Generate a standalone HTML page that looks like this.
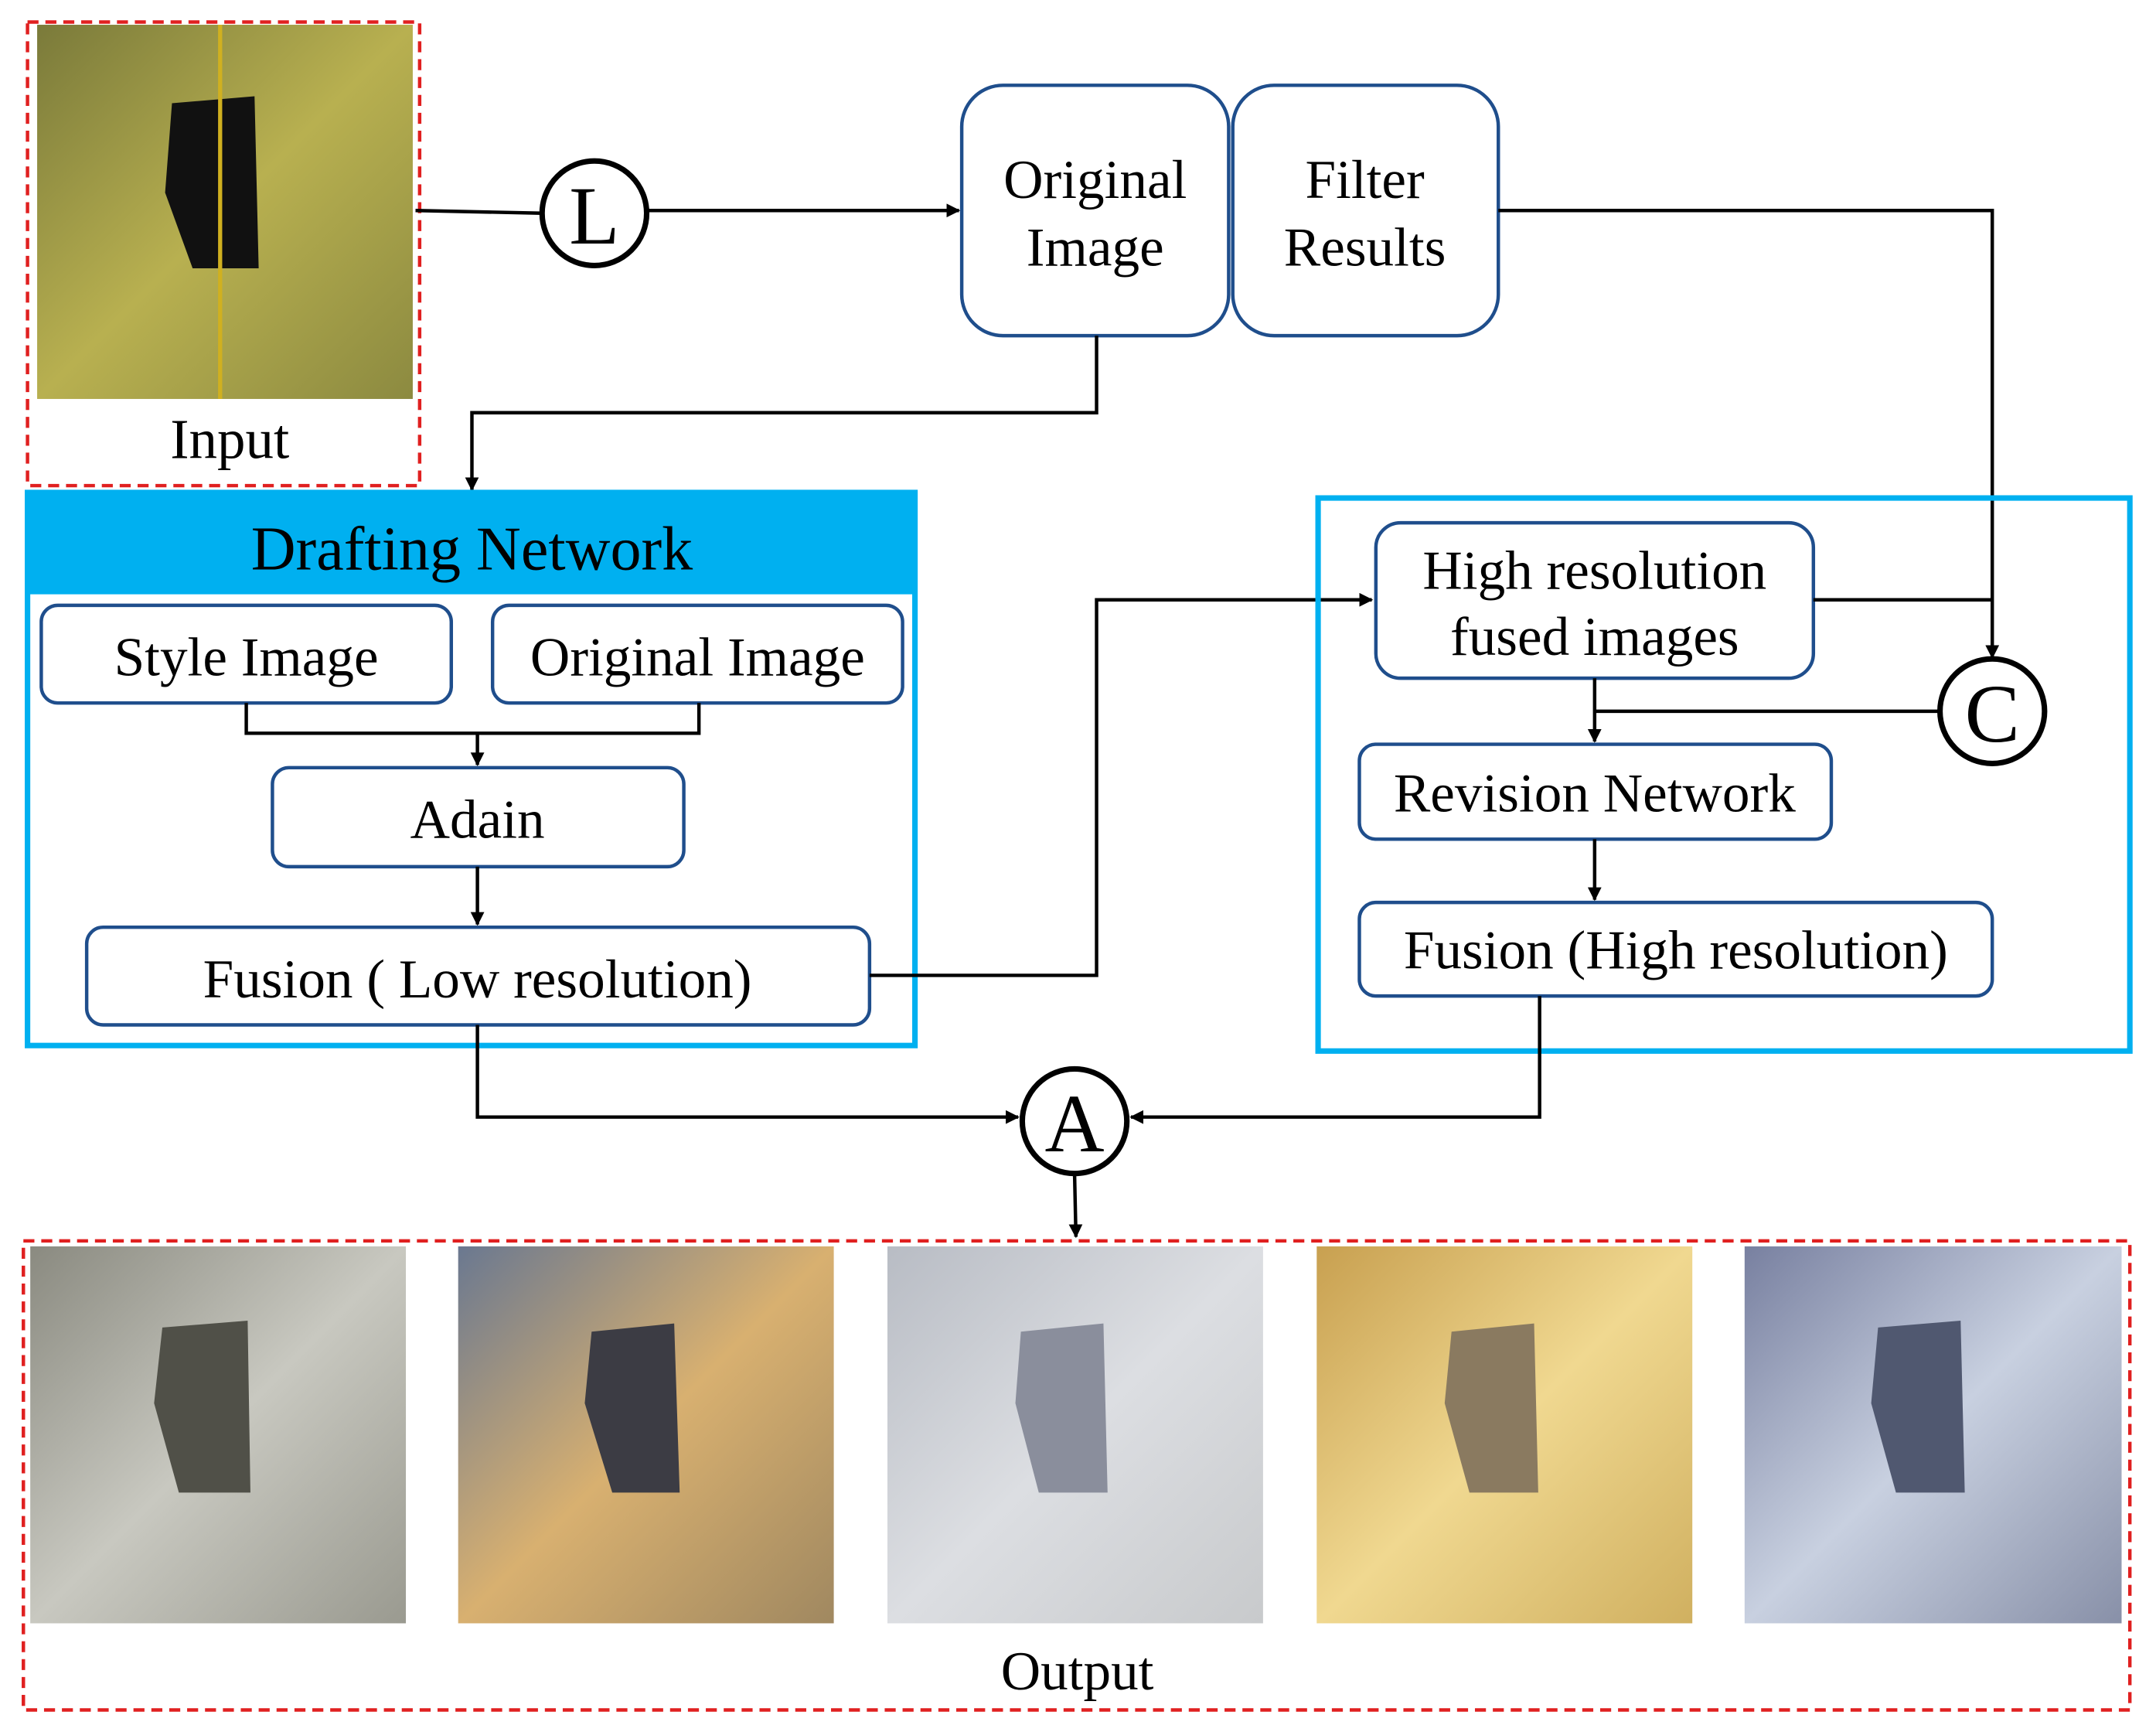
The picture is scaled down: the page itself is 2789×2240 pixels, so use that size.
<!DOCTYPE html>
<html><head><meta charset="utf-8"><style>html,body{margin:0;padding:0;background:#fff}svg{display:block}</style></head>
<body>
<svg width="2789" height="2240" viewBox="0 0 1567 1259" preserveAspectRatio="none" xmlns="http://www.w3.org/2000/svg" font-family="Liberation Serif, serif">
<defs>
<marker id="ar" markerWidth="10" markerHeight="10" refX="9" refY="5" orient="auto" markerUnits="userSpaceOnUse"><path d="M0,0 L10,5 L0,10 z" fill="#000"/></marker>
<linearGradient id="gIn" x1="0" y1="0" x2="1" y2="1"><stop offset="0" stop-color="#7a7a3a"/><stop offset="0.5" stop-color="#b8b050"/><stop offset="1" stop-color="#8c8a40"/></linearGradient>
<linearGradient id="g1" x1="0" y1="0" x2="1" y2="1"><stop offset="0" stop-color="#8a8a80"/><stop offset="0.5" stop-color="#c8c8c0"/><stop offset="1" stop-color="#9a9a90"/></linearGradient>
<linearGradient id="g2" x1="0" y1="0" x2="1" y2="1"><stop offset="0" stop-color="#6a7890"/><stop offset="0.5" stop-color="#d8b070"/><stop offset="1" stop-color="#a08860"/></linearGradient>
<linearGradient id="g3" x1="0" y1="0" x2="1" y2="1"><stop offset="0" stop-color="#b8bcc4"/><stop offset="0.5" stop-color="#dcdee2"/><stop offset="1" stop-color="#c8cacc"/></linearGradient>
<linearGradient id="g4" x1="0" y1="0" x2="1" y2="1"><stop offset="0" stop-color="#c8a050"/><stop offset="0.5" stop-color="#f0d890"/><stop offset="1" stop-color="#d0b060"/></linearGradient>
<linearGradient id="g5" x1="0" y1="0" x2="1" y2="1"><stop offset="0" stop-color="#7880a0"/><stop offset="0.5" stop-color="#c8d0e0"/><stop offset="1" stop-color="#8890a8"/></linearGradient>
</defs>

<rect x="20" y="16" width="285" height="337" fill="none" stroke="#e02020" stroke-width="2.5" stroke-dasharray="8,5"/>
<rect x="27" y="18" width="273" height="272" fill="url(#gIn)"/>
<path d="M125,75 L185,70 L188,195 L140,195 L120,140 Z" fill="#111"/>
<line x1="160" y1="18" x2="160" y2="290" stroke="#d0b020" stroke-width="3"/>
<text x="167" y="333" font-size="41" text-anchor="middle">Input</text>

<line x1="302" y1="153" x2="394" y2="155" stroke="#000" stroke-width="2.5"/>
<circle cx="432" cy="155" r="38" fill="#fff" stroke="#000" stroke-width="4"/>
<text x="432" y="177" font-size="60" text-anchor="middle">L</text>
<line x1="470" y1="153" x2="697" y2="153" stroke="#000" stroke-width="2.5" marker-end="url(#ar)"/>

<rect x="699" y="62" width="194" height="182" rx="30" fill="#fff" stroke="#1f4e8c" stroke-width="2.5"/>
<text x="796" y="144" font-size="40" text-anchor="middle">Original</text>
<text x="796" y="193" font-size="40" text-anchor="middle">Image</text>
<rect x="896" y="62" width="193" height="182" rx="30" fill="#fff" stroke="#1f4e8c" stroke-width="2.5"/>
<text x="992" y="144" font-size="40" text-anchor="middle">Filter</text>
<text x="992" y="193" font-size="40" text-anchor="middle">Results</text>

<polyline points="1089,153 1448,153 1448,478" fill="none" stroke="#000" stroke-width="2.5" marker-end="url(#ar)"/>
<polyline points="797,244 797,300 343,300 343,356" fill="none" stroke="#000" stroke-width="2.5" marker-end="url(#ar)"/>

<rect x="20" y="358" width="645" height="402" fill="#fff" stroke="#00b0f0" stroke-width="4"/>
<rect x="20" y="358" width="645" height="74" fill="#00b0f0"/>
<text x="343" y="414" font-size="45" text-anchor="middle">Drafting Network</text>
<rect x="30" y="440" width="298" height="71" rx="12" fill="#fff" stroke="#1f4e8c" stroke-width="2.5"/>
<text x="179" y="491" font-size="40" text-anchor="middle">Style Image</text>
<rect x="358" y="440" width="298" height="71" rx="12" fill="#fff" stroke="#1f4e8c" stroke-width="2.5"/>
<text x="507" y="491" font-size="40" text-anchor="middle">Original Image</text>
<polyline points="179,511 179,533 508,533 508,511" fill="none" stroke="#000" stroke-width="2.5"/>
<line x1="347" y1="533" x2="347" y2="556" stroke="#000" stroke-width="2.5" marker-end="url(#ar)"/>
<rect x="198" y="558" width="299" height="72" rx="12" fill="#fff" stroke="#1f4e8c" stroke-width="2.5"/>
<text x="347" y="609" font-size="40" text-anchor="middle">Adain</text>
<line x1="347" y1="630" x2="347" y2="672" stroke="#000" stroke-width="2.5" marker-end="url(#ar)"/>
<rect x="63" y="674" width="569" height="71" rx="12" fill="#fff" stroke="#1f4e8c" stroke-width="2.5"/>
<text x="347" y="725" font-size="40" text-anchor="middle">Fusion ( Low resolution)</text>

<polyline points="632,709 797,709 797,436 997,436" fill="none" stroke="#000" stroke-width="2.5" marker-end="url(#ar)"/>

<rect x="958" y="362" width="590" height="402" fill="none" stroke="#00b0f0" stroke-width="4"/>
<rect x="1000" y="380" width="318" height="113" rx="18" fill="#fff" stroke="#1f4e8c" stroke-width="2.5"/>
<text x="1159" y="428" font-size="40" text-anchor="middle">High resolution</text>
<text x="1159" y="476" font-size="40" text-anchor="middle">fused images</text>
<line x1="1318" y1="436" x2="1448" y2="436" stroke="#000" stroke-width="2.5"/>
<polyline points="1410,517 1159,517" fill="none" stroke="#000" stroke-width="2.5"/>
<line x1="1159" y1="493" x2="1159" y2="539" stroke="#000" stroke-width="2.5" marker-end="url(#ar)"/>
<circle cx="1448" cy="517" r="38" fill="#fff" stroke="#000" stroke-width="4"/>
<text x="1448" y="539" font-size="60" text-anchor="middle">C</text>
<rect x="988" y="541" width="343" height="69" rx="12" fill="#fff" stroke="#1f4e8c" stroke-width="2.5"/>
<text x="1159" y="590" font-size="40" text-anchor="middle">Revision Network</text>
<line x1="1159" y1="610" x2="1159" y2="654" stroke="#000" stroke-width="2.5" marker-end="url(#ar)"/>
<rect x="988" y="656" width="460" height="68" rx="12" fill="#fff" stroke="#1f4e8c" stroke-width="2.5"/>
<text x="1218" y="704" font-size="40" text-anchor="middle">Fusion (High resolution)</text>

<polyline points="1119,724 1119,812 822,812" fill="none" stroke="#000" stroke-width="2.5" marker-end="url(#ar)"/>
<polyline points="347,745 347,812 740,812" fill="none" stroke="#000" stroke-width="2.5" marker-end="url(#ar)"/>
<circle cx="781" cy="815" r="38" fill="#fff" stroke="#000" stroke-width="4"/>
<text x="781" y="837" font-size="60" text-anchor="middle">A</text>
<line x1="781" y1="853" x2="782" y2="899" stroke="#000" stroke-width="2.5" marker-end="url(#ar)"/>

<rect x="17" y="902" width="1531" height="341" fill="none" stroke="#e02020" stroke-width="2.5" stroke-dasharray="8,5"/>
<g>
<rect x="22" y="906" width="273" height="274" fill="url(#g1)"/>
<path d="M118,965 L180,960 L182,1085 L130,1085 L112,1020 Z" fill="#505048"/>
<rect x="333" y="906" width="273" height="274" fill="url(#g2)"/>
<path d="M430,968 L490,962 L494,1085 L445,1085 L425,1020 Z" fill="#3c3c44"/>
<rect x="645" y="906" width="273" height="274" fill="url(#g3)"/>
<path d="M742,968 L802,962 L805,1085 L755,1085 L738,1020 Z" fill="#8a8e9c"/>
<rect x="957" y="906" width="273" height="274" fill="url(#g4)"/>
<path d="M1055,968 L1115,962 L1118,1085 L1068,1085 L1050,1020 Z" fill="#8a7a60"/>
<rect x="1268" y="906" width="274" height="274" fill="url(#g5)"/>
<path d="M1365,965 L1425,960 L1428,1085 L1378,1085 L1360,1020 Z" fill="#505870"/>
</g>
<text x="783" y="1228" font-size="40" text-anchor="middle">Output</text>
</svg>
</body></html>
